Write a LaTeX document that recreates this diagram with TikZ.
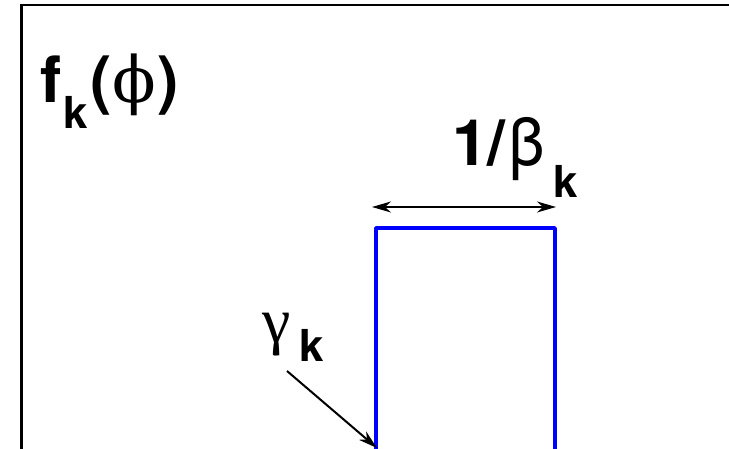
\documentclass[tikz,border=0pt]{standalone}
\usepackage{fontspec}
\setmainfont{TeX Gyre Heros}
\newfontfamily\symfont{DejaVu Serif}
\newfontfamily\symtimes{Liberation Serif}
\usepackage{tikz}
\usetikzlibrary{arrows.meta, positioning}

\begin{document}
\begin{tikzpicture}[x=1pt, y=-1pt,
    lbl/.style={inner sep=0pt, anchor=base west, font=\fontsize{64}{64}\selectfont\bfseries},
    sub/.style={inner sep=0pt, anchor=base west, font=\fontsize{44}{44}\selectfont\bfseries},
    grk/.style={inner sep=0pt, anchor=base west, font=\fontsize{66}{66}\selectfont},
    frame/.style={draw=black, line width=2.4pt},
    pulse/.style={draw=blue, line width=3.8pt, line cap=round, line join=round},
    arr/.style={-{Stealth[length=19pt, width=11pt, inset=6pt]}, black, line width=2pt},
    darr/.style={{Stealth[length=19pt, width=11pt, inset=6pt]}-{Stealth[length=19pt, width=11pt, inset=6pt]}, black, line width=2pt}
  ]
  \useasboundingbox (0,0) rectangle (729,449);

  % axes frame
  \coordinate (ybot) at (21.5,449);
  \coordinate (ytop) at (21.5,5);
  \coordinate (xend) at (729,5);
  \draw[frame] (ybot) -- (ytop) -- (xend);

  % f_k(phi)
  \node[lbl] (fname) at (40,103) {f};
  \node[sub] (fsub) at (63,129) {k};
  \node[lbl] (fargs) at (90,103) {(\kern1pt{\mdseries\symfont ϕ}\kern1pt)};

  % pulse
  \coordinate (bl) at (376,452);
  \coordinate (tl) at (376,228);
  \coordinate (tr) at (555,228);
  \coordinate (br) at (555,452);
  \draw[pulse] (bl) -- (tl) -- (tr) -- (br);

  % width 1/beta_k
  \coordinate (wl) at (372,207);
  \coordinate (wr) at (556,207);
  \draw[darr] (wl) -- (wr);
  \node[lbl] (wone) at (452,166) {1/};
  \node[grk] (wbeta) at (508,166) {β};
  \node[sub] (wsub) at (553,198) {k};

  % gamma_k
  \node[grk, font=\fontsize{64}{64}\selectfont\symtimes] (gam) at (262,342) {γ};
  \node[sub] (gsub) at (299,362) {k};
  \coordinate (gs) at (287,371);
  \coordinate (ge) at (377,448);
  \draw[arr] (gs) -- (ge);
\end{tikzpicture}
\end{document}
